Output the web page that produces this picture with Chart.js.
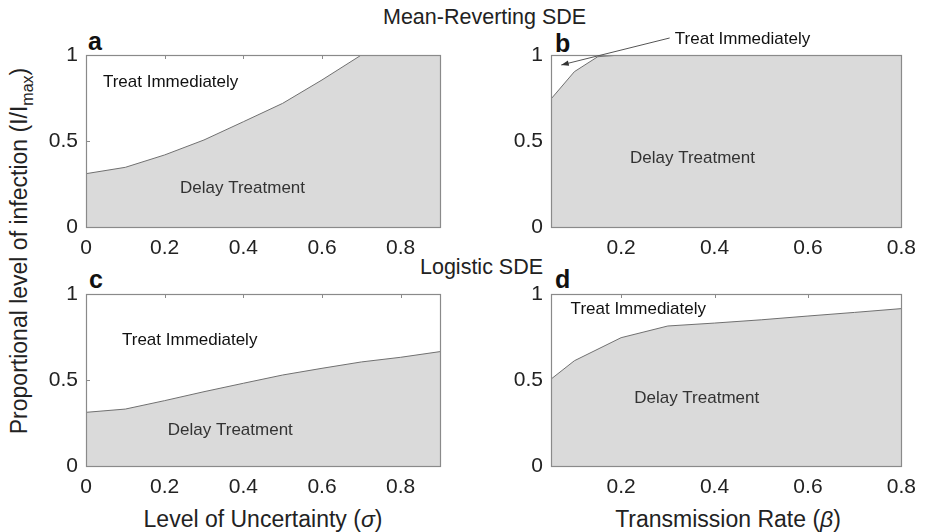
<!DOCTYPE html>
<html>
<head>
<meta charset="utf-8">
<script src="https://cdn.jsdelivr.net/npm/chart.js@4.4.0/dist/chart.umd.min.js"></script>
<style>
body { margin: 0; background: #fff; width: 926px; height: 532px; position: relative; overflow: hidden;
       font-family: "Liberation Sans", Arial, sans-serif; color: #222; }
.t { position: absolute; white-space: nowrap; line-height: 1; }
.lt { font-weight: bold; font-size: 25px; color: #111; }
canvas { position: absolute; }
</style>
</head>
<body>
<div class="t" style="left:383px;top:7px;font-size:21.5px;">Mean-Reverting SDE</div>
<div class="t" style="left:420px;top:257px;font-size:21.5px;">Logistic SDE</div>
<div class="t lt" style="left:88px;top:29px;">a</div>
<div class="t lt" style="left:555px;top:31px;">b</div>
<div class="t lt" style="left:89px;top:267px;">c</div>
<div class="t lt" style="left:555px;top:267px;">d</div>
<div class="t" style="left:263px;top:519px;font-size:23px;transform:translate(-50%,-50%);">Level of Uncertainty (<i>&sigma;</i>)</div>
<div class="t" style="left:728px;top:519px;font-size:23px;transform:translate(-50%,-50%);">Transmission Rate (<i>&beta;</i>)</div>
<div class="t" style="left:22px;top:251px;font-size:23px;transform:translate(-50%,-50%) rotate(-90deg);">Proportional level of infection (I/I<sub style="font-size:16px;">max</sub>)</div>

<canvas id="ca" width="434" height="234" style="left:26px;top:25px;"></canvas>
<canvas id="cb" width="434" height="234" style="left:491px;top:25px;"></canvas>
<canvas id="cc" width="434" height="234" style="left:26px;top:264px;"></canvas>
<canvas id="cd" width="434" height="234" style="left:491px;top:264px;"></canvas>

<script>
// x values (sigma / beta) and threshold curves
const sigmaVals = [0, 0.1, 0.2, 0.3, 0.4, 0.5, 0.6, 0.7, 0.8, 0.9];
const meanRevSigma = [0.31, 0.347, 0.419, 0.506, 0.612, 0.719, 0.855, 1, 1, 1];
const logisticSigma = [0.312, 0.331, 0.38, 0.432, 0.481, 0.529, 0.568, 0.605, 0.632, 0.665];

const betaValsB = [0.05, 0.1, 0.15, 0.2, 0.3, 0.4, 0.5, 0.6, 0.7, 0.8];
const meanRevBeta = [0.744, 0.903, 0.99, 1, 1, 1, 1, 1, 1, 1];
const betaValsD = [0.05, 0.1, 0.2, 0.3, 0.4, 0.5, 0.6, 0.7, 0.8];
const logisticBeta = [0.505, 0.612, 0.746, 0.814, 0.831, 0.85, 0.872, 0.893, 0.915];

// tick labels
const sigmaTicks = [0, 0.2, 0.4, 0.6, 0.8];
const betaTicks = [0.2, 0.4, 0.6, 0.8];
const yTicks = [0, 0.5, 1];

const FILL = '#dadada';
const EDGE = '#707070';
const FRAME = '#8a8a8a';

// matlab-ish box: inward ticks, frame, region labels, optional arrow
const boxPlugin = {
    id: 'box',
    beforeDatasetsDraw(chart) {
        const ctx = chart.ctx, a = chart.chartArea;
        const xs = chart.scales.x, ys = chart.scales.y;
        ctx.save();
        ctx.strokeStyle = FRAME;
        ctx.lineWidth = 1;
        ctx.beginPath();
        xs.ticks.forEach(t => {
            const px = Math.round(xs.getPixelForValue(t.value)) + 0.5;
            ctx.moveTo(px, a.top); ctx.lineTo(px, a.top + 4);
            ctx.moveTo(px, a.bottom); ctx.lineTo(px, a.bottom - 4);
        });
        ys.ticks.forEach(t => {
            const py = Math.round(ys.getPixelForValue(t.value)) + 0.5;
            ctx.moveTo(a.left, py); ctx.lineTo(a.left + 4, py);
            ctx.moveTo(a.right, py); ctx.lineTo(a.right - 4, py);
        });
        ctx.stroke();
        ctx.restore();
    },
    afterDatasetsDraw(chart, args, opts) {
        const ctx = chart.ctx, a = chart.chartArea;
        const xs = chart.scales.x, ys = chart.scales.y;
        ctx.save();
        ctx.strokeStyle = FRAME;
        ctx.lineWidth = 1.2;
        ctx.strokeRect(Math.round(a.left) + 0.5, Math.round(a.top) + 0.5,
            Math.round(a.right - a.left), Math.round(a.bottom - a.top));
        ctx.font = '17px "Liberation Sans", Arial, sans-serif';
        ctx.textAlign = 'left';
        ctx.textBaseline = 'middle';
        (opts.labels || []).forEach(l => {
            ctx.fillStyle = l.color || '#111';
            ctx.fillText(l.text, xs.getPixelForValue(l.x), ys.getPixelForValue(l.y));
        });
        if (opts.arrow) {
            const x0 = xs.getPixelForValue(opts.arrow.from[0]), y0 = ys.getPixelForValue(opts.arrow.from[1]);
            const x1 = xs.getPixelForValue(opts.arrow.to[0]), y1 = ys.getPixelForValue(opts.arrow.to[1]);
            ctx.strokeStyle = '#555';
            ctx.fillStyle = '#333';
            ctx.lineWidth = 1;
            ctx.beginPath();
            ctx.moveTo(x0, y0); ctx.lineTo(x1, y1);
            ctx.stroke();
            const ang = Math.atan2(y1 - y0, x1 - x0);
            ctx.beginPath();
            ctx.moveTo(x1, y1);
            ctx.lineTo(x1 - 8 * Math.cos(ang - 0.35), y1 - 8 * Math.sin(ang - 0.35));
            ctx.lineTo(x1 - 8 * Math.cos(ang + 0.35), y1 - 8 * Math.sin(ang + 0.35));
            ctx.closePath();
            ctx.fill();
        }
        ctx.restore();
    }
};

const tickFont = { size: 21, family: '"Liberation Sans", Arial, sans-serif' };

function makePanel(id, xv, yv, xmin, xmax, xticks, labels, arrow) {
    return new Chart(document.getElementById(id), {
        type: 'line',
        data: {
            datasets: [{
                data: xv.map((x, i) => ({ x: x, y: yv[i] })),
                borderColor: EDGE,
                borderWidth: 1,
                backgroundColor: FILL,
                fill: 'origin',
                tension: 0,
                pointRadius: 0
            }]
        },
        options: {
            responsive: false,
            animation: false,
            devicePixelRatio: 1,
            layout: { padding: { top: 30, right: 20, left: 0, bottom: 0 } },
            plugins: {
                legend: { display: false },
                tooltip: { enabled: false },
                box: { labels: labels, arrow: arrow }
            },
            scales: {
                x: {
                    type: 'linear',
                    min: xmin, max: xmax,
                    afterBuildTicks: s => { s.ticks = xticks.map(v => ({ value: v })); },
                    afterFit: s => { s.height = 32; },
                    grid: { display: false, drawTicks: false },
                    border: { display: false },
                    ticks: { padding: 9, color: '#222', font: tickFont, callback: v => String(v) }
                },
                y: {
                    min: 0, max: 1,
                    afterBuildTicks: s => { s.ticks = yTicks.map(v => ({ value: v })); },
                    afterFit: s => { s.width = 60; },
                    grid: { display: false, drawTicks: false },
                    border: { display: false },
                    ticks: { padding: 8, color: '#222', font: tickFont, callback: v => String(v) }
                }
            }
        },
        plugins: [boxPlugin]
    });
}

makePanel('ca', sigmaVals, meanRevSigma, 0, 0.9, sigmaTicks, [
    { text: 'Treat Immediately', x: 0.043, y: 0.843 },
    { text: 'Delay Treatment', x: 0.239, y: 0.227, color: '#333' }
]);
makePanel('cb', betaValsB, meanRevBeta, 0.05, 0.8, betaTicks, [
    { text: 'Delay Treatment', x: 0.219, y: 0.401, color: '#333' },
    { text: 'Treat Immediately', x: 0.315, y: 1.093 }
], { from: [0.304, 1.099], to: [0.072, 0.942] });
makePanel('cc', sigmaVals, logisticSigma, 0, 0.9, sigmaTicks, [
    { text: 'Treat Immediately', x: 0.0915, y: 0.731 },
    { text: 'Delay Treatment', x: 0.208, y: 0.21, color: '#333' }
]);
makePanel('cd', betaValsD, logisticBeta, 0.05, 0.8, betaTicks, [
    { text: 'Treat Immediately', x: 0.092, y: 0.912 },
    { text: 'Delay Treatment', x: 0.228, y: 0.392, color: '#333' }
]);
</script>
</body>
</html>
